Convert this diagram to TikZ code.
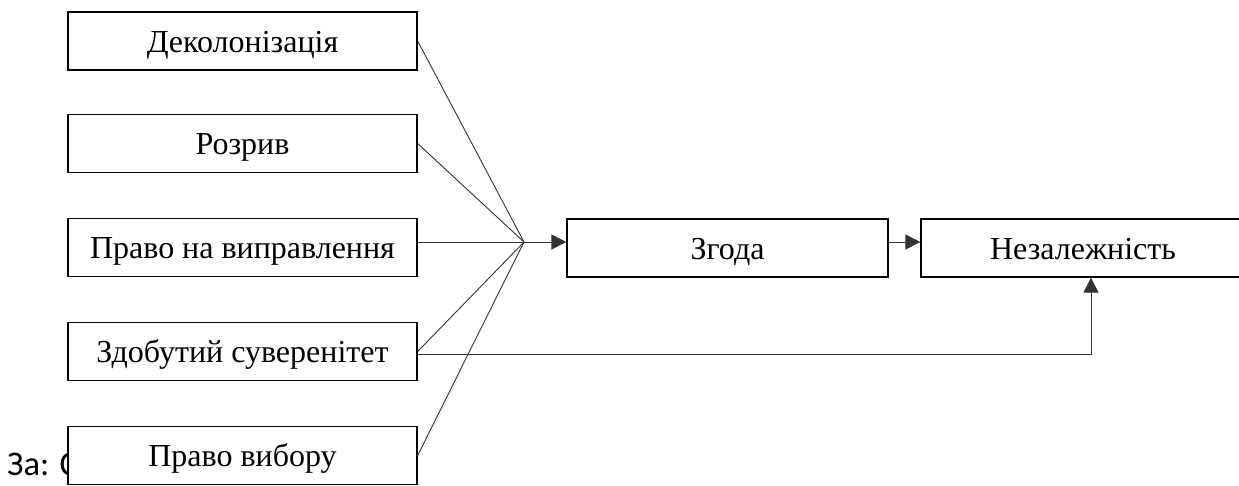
\documentclass[tikz,border=0pt]{standalone}
\usepackage{fontspec}
\setmainfont{Liberation Serif}
\newfontfamily\notefont{Carlito}
\usetikzlibrary{arrows.meta,calc}
\tikzset{
  box/.style={draw=black, line width=1.3pt, fill=white, minimum height=58pt, inner sep=0pt,
    text height=40pt, text depth=18pt,
    font=\fontsize{32}{38}\selectfont},
  conn/.style={draw=black!80, line width=0.9pt},
  arr/.style={conn, -{Triangle[length=15pt,width=15pt]}}
}
\begin{document}
\begin{tikzpicture}[x=1pt,y=-1pt]
\useasboundingbox (0,0) rectangle (1239,485);
\clip (0,0) rectangle (1239,485);
\node[anchor=base west, inner sep=0pt, font=\notefont\fontsize{34.5}{40}\selectfont] (note) at (7,475) {За: С};
\node[box, minimum width=349pt] (b1) at (242.5,41) {Деколонізація};
\node[box, minimum width=349pt] (b2) at (242.5,143.5) {Розрив};
\node[box, minimum width=349pt] (b3) at (242.5,247.5) {Право на виправлення};
\node[box, minimum width=349pt] (b4) at (242.5,351.5) {Здобутий суверенітет};
\node[box, minimum width=349pt] (b5) at (242.5,455.5) {Право вибору};
\node[box, minimum width=321pt] (zg) at (727.5,248) {Згода};
\node[box, minimum width=340pt] (nz) at (1091,248) {\hspace*{-16pt}Незалежність};
\coordinate (J) at (524,242);
\coordinate (K) at (1091,354);
\draw[conn] (b1.east) -- (J);
\draw[conn] (b2.east) -- (J);
\draw[conn] (b3.east |- J) -- (J);
\draw[conn] (b4.east) -- (J);
\draw[conn] (b5.east) -- (J);
\draw[arr] (J) -- (J -| zg.west);
\draw[arr] (zg.east |- J) -- (J -| nz.west);
\draw[arr] (b4.east |- K) -- (K) -- (K |- nz.south);
\end{tikzpicture}
\end{document}
